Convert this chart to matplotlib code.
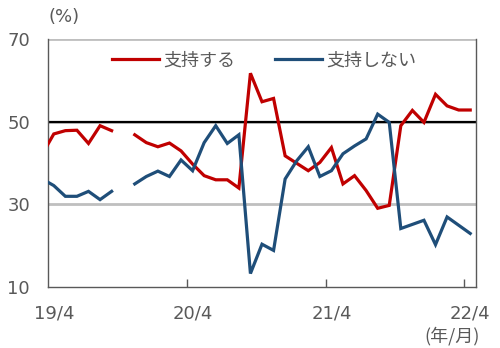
import numpy as np
import matplotlib
matplotlib.use("Agg")
import matplotlib.pyplot as plt
from matplotlib.ticker import FixedLocator

# monthly poll results, 2019/3 .. 2022/4 (2019/10 missing)
months = [f"{(2019 * 12 + 2 + i) // 12 % 100:02d}/{(2 + i) % 12 + 1}" for i in range(38)]
support = [42.1, 47.0, 47.8, 47.9, 44.7, 49.0, 47.8, np.nan, 46.8, 44.9,
           43.9, 44.8, 42.9, 39.7, 36.9, 35.9, 35.9, 33.9, 61.7, 54.8,
           55.6, 41.7, 39.9, 38.1, 40.1, 43.7, 34.9, 36.9, 33.3, 29.0,
           29.7, 49.0, 52.7, 49.8, 56.6, 53.8, 52.8, 52.8]
oppose = [36.1, 34.5, 31.9, 31.9, 33.1, 31.1, 33.1, np.nan, 34.9, 36.7,
          38.0, 36.7, 40.7, 38.1, 44.9, 49.0, 44.7, 46.8, 13.2, 20.3,
          18.8, 36.1, 40.5, 43.9, 36.7, 38.1, 42.2, 44.1, 45.8, 51.8,
          49.8, 24.1, 25.1, 26.1, 20.2, 26.9, 24.9, 22.9]
tick_labels = ["19/4", "20/4", "21/4", "22/4"]

RED = "#C00000"
BLUE = "#1F4E79"
GRAY = "#595959"

# position of each month, 19/4 = 0
x = np.arange(len(months)) - 1

fig = plt.figure(figsize=(5.0, 3.48), dpi=100)
ax = fig.add_axes([0.096, 0.176, 0.856, 0.712])

# gridlines first, then the 50% reference line
for level in [30, 50, 70]:
    ax.axhline(level, color="#BFBFBF", lw=2, zorder=1)
ax.axhline(50, color="black", lw=1.6, zorder=2)

ax.plot(x, support, color=RED, lw=2.3, label="支持する", zorder=3,
        solid_joinstyle="miter")
ax.plot(x, oppose, color=BLUE, lw=2.3, label="支持しない", zorder=3,
        solid_joinstyle="miter")

ax.set_xlim(-0.5, 36.5)
ax.set_ylim(10, 70)

# labels on the category, tick marks between categories
label_pos = [months.index(t) - 1 for t in tick_labels]
ax.set_xticks(label_pos)
ax.set_xticklabels(tick_labels)
ax.xaxis.set_minor_locator(FixedLocator([p - 0.5 for p in label_pos[1:]]))
ax.tick_params(axis="x", which="major", length=0, pad=13, labelsize=13,
               labelcolor=GRAY)
ax.tick_params(axis="x", which="minor", length=6, direction="in",
               color=GRAY, width=1)
ax.set_yticks([10, 30, 50, 70])
ax.tick_params(axis="y", length=0, pad=13, labelsize=13, labelcolor=GRAY)

for side in ["left", "bottom", "right"]:
    ax.spines[side].set_color(GRAY)
    ax.spines[side].set_linewidth(1)
ax.spines["top"].set_visible(False)

leg = ax.legend(loc="upper center", bbox_to_anchor=(0.505, 1.0), ncol=2,
                frameon=False, handlelength=2.6, handletextpad=0.25,
                columnspacing=2.2, borderaxespad=0.3,
                prop={"family": ["Noto Sans CJK JP", "DejaVu Sans"], "size": 13})
for t in leg.get_texts():
    t.set_color(GRAY)

fig.text(0.128, 0.951, "(%)", ha="center", va="center", fontsize=13, color=GRAY)
fig.text(0.904, 0.034, "(年/月)", ha="center", va="center", fontsize=13,
         color=GRAY, family=["Noto Sans CJK JP", "DejaVu Sans"])

fig.savefig("out.png", dpi=100)
